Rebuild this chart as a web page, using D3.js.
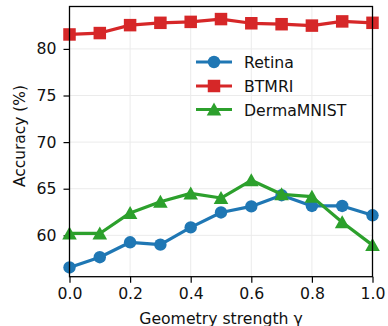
<!DOCTYPE html>
<html><head><meta charset="utf-8">
<script src="https://cdn.jsdelivr.net/npm/d3@7/dist/d3.min.js"></script>
<style>
html,body{margin:0;padding:0;background:#fff;}
svg{display:block;font-family:"DejaVu Sans",sans-serif;}
</style></head>
<body><svg id="c" width="388" height="326"></svg>
<script>
const gammas = [0.0,0.1,0.2,0.3,0.4,0.5,0.6,0.7,0.8,0.9,1.0];
const retina = [56.55,57.65,59.25,59.0,60.85,62.45,63.1,64.3,63.15,63.15,62.15];
const btmri = [81.55,81.7,82.55,82.8,82.9,83.2,82.75,82.65,82.5,82.95,82.8];
const derma = [60.2,60.2,62.4,63.6,64.5,64.0,65.9,64.4,64.15,61.4,58.95];
const seriesNames = ["Retina","BTMRI","DermaMNIST"];
const colors = ["#1f77b4","#d62728","#2ca02c"];
const markers = ["circle","square","triangle"];
const xTicks = [0,0.2,0.4,0.6,0.8,1.0];
const yTicks = [60,65,70,75,80];
const xLabel = "Geometry strength γ";
const yLabel = "Accuracy (%)";

const FS = "15.7px";
const TXT = "#111";
const svg = d3.select("#c");
const L=69.5, R=372.5, T=6.5, B=276.7;
const x = d3.scaleLinear().domain([0,1]).range([L,R]);
const y = d3.scaleLinear().domain([55.56,84.55]).range([B,T]);

// grid
const grid = svg.append("g");
grid.selectAll("line.gx").data(xTicks).enter().append("line")
  .attr("x1",d=>x(d)).attr("x2",d=>x(d)).attr("y1",T).attr("y2",B)
  .attr("stroke","#ebebeb").attr("stroke-width",1);
grid.selectAll("line.gy").data(yTicks).enter().append("line")
  .attr("y1",d=>y(d)).attr("y2",d=>y(d)).attr("x1",L).attr("x2",R)
  .attr("stroke","#ebebeb").attr("stroke-width",1);

// axes
const xa = svg.append("g").attr("transform",`translate(0,${B})`)
  .call(d3.axisBottom(x).tickValues(xTicks).tickFormat(d3.format(".1f")).tickSizeInner(6).tickSizeOuter(0).tickPadding(5));
const ya = svg.append("g").attr("transform",`translate(${L},0)`)
  .call(d3.axisLeft(y).tickValues(yTicks).tickFormat(d3.format("d")).tickSizeInner(6).tickSizeOuter(0).tickPadding(7));
[xa,ya].forEach(a=>{
  a.select(".domain").remove();
  a.selectAll("line").attr("stroke","#000").attr("stroke-width",1.2);
  a.selectAll("text").attr("font-size",FS).attr("fill",TXT).attr("font-family","DejaVu Sans");
});

const datasets = [retina,btmri,derma];
function markerPath(m){
  if (m==="triangle") return "M0,-7L7.3,6L-7.3,6Z";
  if (m==="square") return d3.symbol().type(d3.symbolSquare).size(12.5*12.5)();
  return d3.symbol().type(d3.symbolCircle).size(Math.PI*6.2*6.2)();
}

const plot = svg.append("g");
datasets.forEach((vals,i)=>{
  const pts = gammas.map((g,j)=>[g,vals[j]]);
  plot.append("path").datum(pts)
    .attr("d",d3.line().x(d=>x(d[0])).y(d=>y(d[1])))
    .attr("fill","none").attr("stroke",colors[i]).attr("stroke-width",3.2)
    .attr("stroke-linejoin","round");
  plot.selectAll(null).data(pts).enter().append("path")
    .attr("d",markerPath(markers[i]))
    .attr("transform",d=>`translate(${x(d[0])},${y(d[1])})`)
    .attr("fill",colors[i]);
});

// spines
svg.append("rect").attr("x",L).attr("y",T).attr("width",R-L).attr("height",B-T)
  .attr("fill","none").attr("stroke","#000").attr("stroke-width",1.3);

// legend
const lg = svg.append("g");
const rows = [62,86,109.5];
seriesNames.forEach((n,i)=>{
  const yy = rows[i];
  lg.append("line").attr("x1",196).attr("x2",232).attr("y1",yy).attr("y2",yy)
    .attr("stroke",colors[i]).attr("stroke-width",3.2);
  lg.append("path").attr("d",markerPath(markers[i])).attr("transform",`translate(214,${yy})`).attr("fill",colors[i]);
  lg.append("text").attr("x",244).attr("y",yy+6).attr("font-size",FS).attr("fill",TXT).text(n);
});

// labels
svg.append("text").attr("x",(L+R)/2).attr("y",323.5).attr("text-anchor","middle")
  .attr("font-size",FS).attr("fill",TXT).text(xLabel);
svg.append("text").attr("transform","translate(25,136) rotate(-90)").attr("text-anchor","middle")
  .attr("font-size","15.4px").attr("fill",TXT).text(yLabel);
</script></body></html>
